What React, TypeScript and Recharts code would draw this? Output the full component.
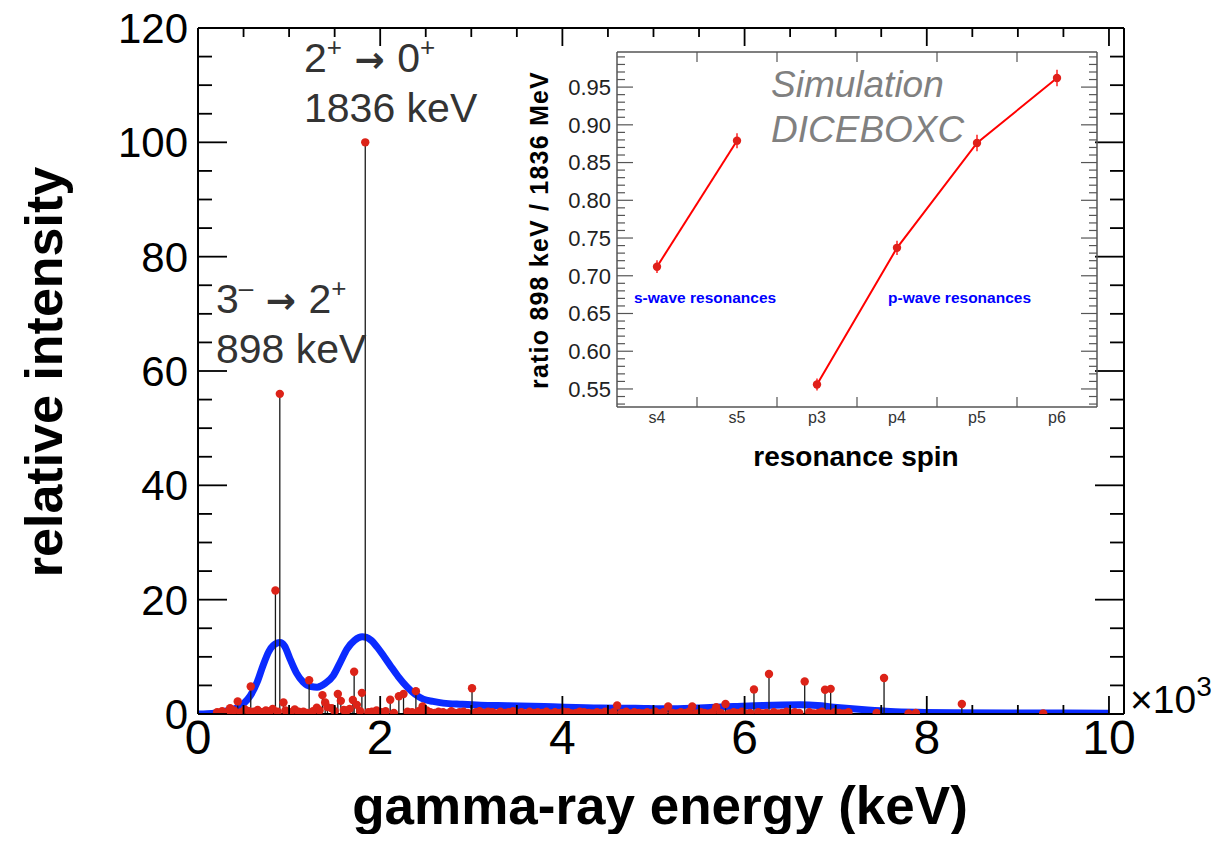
import React from "react";
import {
  ComposedChart,
  Line,
  Scatter,
  ErrorBar,
  XAxis,
  YAxis,
  ReferenceLine,
} from "recharts";

const FONT = '"Liberation Sans", Arial, Helvetica, sans-serif';

// gamma lines [energy keV, relative intensity]
const strongLines: number[][] = [
  [352, 1.0], [436, 2.2], [579, 4.8], [850, 21.6], [898, 56], [938, 2.0],
  [1220, 5.9], [1366, 3.3], [1535, 3.5], [1568, 2.3], [1700, 2.45], [1714, 7.4],
  [1744, 1.6], [1799, 3.7], [1836, 100], [2110, 2.5], [2205, 3.1], [2256, 3.5],
  [2392, 4.0], [2465, 1.3], [3008, 4.5], [4601, 1.5], [5161, 1.3], [5425, 1.3],
  [5689, 1.2], [5791, 1.75], [6103, 4.3], [6268, 7.0], [6660, 5.7], [6883, 4.25],
  [6945, 4.4], [7531, 6.3], [8385, 1.75], [9278, 0.1],
];

const weakLines: number[][] = [
  [210, 0.3], [265, 0.5], [330, 0.4], [395, 0.6], [470, 0.3], [515, 0.8], [560, 0.5],
  [610, 0.4], [655, 0.7], [700, 0.3], [745, 0.6], [790, 0.5], [820, 0.9], [875, 0.4],
  [960, 0.6], [1010, 0.3], [1062, 0.8], [1105, 0.4], [1157, 0.4], [1195, 0.2],
  [1262, 0.5], [1304, 1.1], [1335, 0.6], [1396, 2.0], [1421, 1.2], [1469, 1.0],
  [1500, 0.5], [1600, 0.7], [1634, 0.6], [1665, 0.9], [1780, 0.5], [1870, 0.3],
  [1909, 0.4], [1960, 0.6], [2010, 0.3], [2060, 0.5], [2150, 0.2], [2300, 0.4],
  [2350, 0.3], [2420, 0.5], [2470, 0.2], [2510, 0.6], [2550, 0.3], [2600, 0.2],
  [2640, 0.4], [2690, 0.3], [2735, 0.1], [2780, 0.5], [2820, 0.2], [2870, 0.3],
  [2915, 0.4], [2960, 0.2], [3050, 0.3], [3090, 0.5], [3140, 0.2], [3185, 0.4],
  [3230, 0.3], [3270, 0.1], [3320, 0.4], [3370, 0.2], [3410, 0.3], [3460, 0.5],
  [3500, 0.2], [3550, 0.3], [3590, 0.1], [3640, 0.4], [3690, 0.2], [3730, 0.3],
  [3780, 0.2], [3825, 0.4], [3870, 0.1], [3920, 0.3], [3960, 0.2], [4010, 0.4],
  [4060, 0.3], [4100, 0.1], [4150, 0.2], [4190, 0.4], [4240, 0.3], [4290, 0.2],
  [4330, 0.1], [4380, 0.3], [4420, 0.2], [4470, 0.4], [4520, 0.1], [4560, 0.3],
  [4650, 0.2], [4700, 0.4], [4740, 0.1], [4790, 0.3], [4840, 0.2], [4880, 0.1],
  [4930, 0.3], [4980, 0.2], [5020, 0.4], [5070, 0.1], [5110, 0.3], [5210, 0.2],
  [5260, 0.1], [5300, 0.3], [5350, 0.2], [5390, 0.4], [5470, 0.1], [5520, 0.3],
  [5560, 0.2], [5610, 0.1], [5650, 0.3], [5740, 0.2], [5830, 0.1], [5880, 0.3],
  [5920, 0.2], [5970, 0.4], [6010, 0.1], [6060, 0.2], [6150, 0.3], [6200, 0.1],
  [6240, 0.2], [6320, 0.3], [6370, 0.1], [6410, 0.2], [6460, 0.4], [6500, 0.1],
  [6550, 0.3], [6600, 0.2], [6710, 0.3], [6760, 0.1], [6810, 0.2], [6850, 0.4],
  [6920, 0.1], [6990, 0.3], [7040, 0.2], [7090, 0.1], [7140, 0.3], [7450, 0.2],
  [7800, 0.1], [7880, 0.2],
];

// detector-resolution folded spectrum [energy keV, intensity]
const foldedSpectrum: number[][] = [
  [0, 0], [100, 0.05], [200, 0.2], [300, 0.5], [400, 0.9], [500, 1.8], [575, 3.2],
  [650, 5.6], [714, 8.5], [780, 11], [868, 12.4], [900, 12.5], [950, 11.9],
  [1011, 9.6], [1080, 7.2], [1154, 5.6], [1240, 4.8], [1308, 4.7], [1400, 5.4],
  [1484, 6.7], [1560, 9.0], [1637, 11.4], [1720, 12.9], [1802, 13.5], [1850, 13.4],
  [1900, 12.9], [1967, 11.7], [2040, 10.1], [2110, 8.5], [2200, 6.5], [2297, 4.7],
  [2380, 3.5], [2473, 2.6], [2580, 2.2], [2692, 1.9], [2900, 1.7], [3100, 1.55],
  [3396, 1.45], [3800, 1.3], [4418, 1.05], [4800, 1.0], [5154, 0.9], [5500, 1.05],
  [5879, 1.3], [6200, 1.5], [6615, 1.6], [6800, 1.5], [6978, 1.2], [7150, 0.95],
  [7352, 0.7], [7600, 0.45], [7901, 0.3], [8300, 0.22], [9000, 0.18], [10000, 0.15],
];

const energyTicks = [0, 2000, 4000, 6000, 8000, 10000];
const intensityTicks = [0, 20, 40, 60, 80, 100, 120];

// inset: 898/1836 ratio per resonance spin
const spins = ["s4", "s5", "p3", "p4", "p5", "p6"];
const sWaveRatio = [0.712, 0.879, null, null, null, null];
const pWaveRatio = [null, null, 0.556, 0.737, 0.876, 0.962];
const ratioError = [0.0085, 0.01, 0.008, 0.0095, 0.011, 0.011];
const ratioTicks = [0.55, 0.6, 0.65, 0.7, 0.75, 0.8, 0.85, 0.9, 0.95];

const lines = [...strongLines, ...weakLines]
  .map(([e, v]) => ({ e, v, stem: [v, 0] }))
  .sort((a, b) => a.e - b.e);
const folded = foldedSpectrum.map(([e, v]) => ({ e, v }));
const ratioRows = spins.map((s, i) => ({
  i,
  spin: s,
  s: sWaveRatio[i],
  p: pWaveRatio[i],
  err: ratioError[i],
}));

const W = 1224;
const H = 842;

const MAIN = { left: 198, top: 28, right: 1124, bottom: 714 };
const E_MAX = 10165;
const I_MAX = 120;

// inset box on the page and its plot area inside that box
const INSET_BOX = { left: 520, top: 30, width: 600, height: 460 };
const INSET = { left: 97, top: 22, right: 577, bottom: 377 };
const R_MIN = 0.5261;
const R_MAX = 0.9965;

// inward tick marks: anchored on the frame through the axis scales,
// each carries its pixel length and direction
type Mark = { [k: string]: number };

const mainMarks: Mark[] = [];
for (let e = 0; e <= 10000; e += 500) {
  const len = e % 2000 === 0 ? 18 : 9;
  mainMarks.push({ e, v: 0, dx: 0, dy: -len });
  mainMarks.push({ e, v: I_MAX, dx: 0, dy: len });
}
for (let v = 0; v <= 120; v += 5) {
  const len = v % 20 === 0 ? 29 : 14;
  mainMarks.push({ e: 0, v, dx: len, dy: 0 });
  mainMarks.push({ e: E_MAX, v, dx: -len, dy: 0 });
}

const insetMarks: Mark[] = [];
for (let k = 0; k < 5; k++) {
  insetMarks.push({ i: k + 0.5, r: R_MIN, dx: 0, dy: -10 });
  insetMarks.push({ i: k + 0.5, r: R_MAX, dx: 0, dy: 10 });
}
for (let n = 53; n <= 99; n++) {
  const len = n % 5 === 0 ? 16 : 8;
  insetMarks.push({ i: -0.5, r: n / 100, dx: len, dy: 0 });
  insetMarks.push({ i: 5.5, r: n / 100, dx: -len, dy: 0 });
}

const markShape = (color: string, width: number) => (p: any) => {
  const m = p.payload ?? p;
  return (
    <line x1={p.cx} y1={p.cy} x2={p.cx + m.dx} y2={p.cy + m.dy} stroke={color} strokeWidth={width} />
  );
};

const hidden = () => <g />;

const Sup = ({ children, size }: { children: string; size: number }) => (
  <tspan fontSize={size} dy={-size * 0.6}>
    {children}
  </tspan>
);

const Arrow = ({ size, back }: { size: number; back: number }) => (
  <tspan dy={back} fontFamily='"DejaVu Sans", sans-serif' fontWeight="bold" fontSize={size}>
    {" → "}
  </tspan>
);

function MainTitles() {
  return (
    <svg
      width={W}
      height={H}
      style={{ position: "absolute", left: 0, top: 0, pointerEvents: "none" }}
      fontFamily={FONT}
    >
      <text x={62} y={372} fontSize={52} fontWeight="bold" textAnchor="middle" transform="rotate(-90 62 372)">
        relative intensity
      </text>
      <text x={660} y={824} fontSize={53} fontWeight="bold" textAnchor="middle">
        gamma-ray energy (keV)
      </text>
      <text x={1130} y={713} fontSize={39}>
        ×10
        <Sup size={28}>3</Sup>
      </text>
      <g fill="#333" fontSize={41}>
        <text x={304} y={72}>
          2<Sup size={26}>+</Sup>
          <Arrow size={36} back={15.6} />0<Sup size={26}>+</Sup>
        </text>
        <text x={304} y={122}>1836 keV</text>
        <text x={216} y={313}>
          3<Sup size={26}>–</Sup>
          <Arrow size={36} back={15.6} />2<Sup size={26}>+</Sup>
        </text>
        <text x={216} y={363}>898 keV</text>
      </g>
    </svg>
  );
}

// texts of the inset, in inset-box coordinates
function InsetTitles() {
  return (
    <svg
      width={INSET_BOX.width}
      height={INSET_BOX.height}
      style={{ position: "absolute", left: 0, top: 0, pointerEvents: "none" }}
      fontFamily={FONT}
    >
      <text
        x={28}
        y={200}
        fontSize={25}
        fontWeight="bold"
        letterSpacing={1.2}
        textAnchor="middle"
        transform="rotate(-90 28 200)"
      >
        ratio 898 keV / 1836 MeV
      </text>
      <text x={336} y={436} fontSize={28} fontWeight="bold" textAnchor="middle">
        resonance spin
      </text>
      <g fill="#0000ff" fontSize={15.5} fontWeight="bold">
        <text x={114} y={273}>s-wave resonances</text>
        <text x={368} y={273}>p-wave resonances</text>
      </g>
      <g fill="#808080" fontSize={37} fontStyle="italic">
        <text x={251} y={67}>Simulation</text>
        <text x={251} y={112}>DICEBOXC</text>
      </g>
    </svg>
  );
}

function SpectrumChart() {
  return (
    <ComposedChart
      width={W}
      height={H}
      margin={{ top: MAIN.top, left: MAIN.left - 100, right: W - MAIN.right, bottom: H - MAIN.bottom - 100 }}
    >
      <XAxis
        type="number"
        dataKey="e"
        domain={[0, E_MAX]}
        ticks={energyTicks}
        tickFormatter={(v) => String(v / 1000)}
        height={100}
        tickLine={false}
        tickSize={6}
        tickMargin={0}
        axisLine={{ stroke: "#000", strokeWidth: 2 }}
        tick={{ fill: "#000", fontSize: 48, fontFamily: FONT }}
        allowDataOverflow
      />
      <YAxis
        type="number"
        dataKey="v"
        domain={[0, I_MAX]}
        ticks={intensityTicks}
        width={100}
        tickLine={false}
        tickSize={6}
        tickMargin={4}
        axisLine={{ stroke: "#000", strokeWidth: 2 }}
        tick={{ fill: "#000", fontSize: 42, fontFamily: FONT }}
        allowDataOverflow
      />
      <ReferenceLine y={I_MAX} stroke="#000" strokeWidth={2} ifOverflow="visible" />
      <ReferenceLine x={E_MAX} stroke="#000" strokeWidth={2} ifOverflow="visible" />
      <Line
        data={folded}
        dataKey="v"
        type="monotone"
        stroke="#0b2bff"
        strokeWidth={7}
        strokeLinejoin="round"
        dot={false}
        isAnimationActive={false}
      />
      <Scatter data={lines} shape={hidden} isAnimationActive={false}>
        <ErrorBar dataKey="stem" direction="y" width={0} stroke="#1a1a1a" strokeWidth={1.3} isAnimationActive={false} />
      </Scatter>
      <Scatter
        data={lines}
        shape={(p: any) => <circle cx={p.cx} cy={p.cy} r={4.2} fill="#dc2318" />}
        isAnimationActive={false}
      />
      <Scatter data={mainMarks} shape={markShape("#000", 1.8)} isAnimationActive={false} />
    </ComposedChart>
  );
}

function RatioInset() {
  return (
    <ComposedChart
      width={INSET_BOX.width}
      height={INSET_BOX.height}
      data={ratioRows}
      margin={{
        top: INSET.top,
        left: INSET.left - 60,
        right: INSET_BOX.width - INSET.right,
        bottom: INSET_BOX.height - INSET.bottom - 30,
      }}
    >
      <XAxis
        type="number"
        dataKey="i"
        domain={[-0.5, 5.5]}
        ticks={[0, 1, 2, 3, 4, 5]}
        tickFormatter={(v) => spins[v] ?? ""}
        height={30}
        tickLine={false}
        tickSize={5}
        tickMargin={0}
        axisLine={{ stroke: "#555", strokeWidth: 1.5 }}
        tick={{ fill: "#333", fontSize: 16, fontFamily: FONT }}
        allowDataOverflow
      />
      <YAxis
        type="number"
        dataKey="r"
        domain={[R_MIN, R_MAX]}
        ticks={ratioTicks}
        tickFormatter={(v) => v.toFixed(2)}
        width={60}
        tickLine={false}
        tickSize={5}
        tickMargin={1}
        axisLine={{ stroke: "#555", strokeWidth: 1.5 }}
        tick={{ fill: "#222", fontSize: 22, fontFamily: FONT }}
        allowDataOverflow
      />
      <ReferenceLine y={R_MAX} stroke="#555" strokeWidth={1.5} ifOverflow="visible" />
      <ReferenceLine x={5.5} stroke="#555" strokeWidth={1.5} ifOverflow="visible" />
      {(["s", "p"] as const).map((k) => (
        <Line
          key={k}
          dataKey={k}
          stroke="#ff0000"
          strokeWidth={2}
          dot={{ r: 4.2, fill: "#e0201a", stroke: "none" }}
          isAnimationActive={false}
        >
          <ErrorBar dataKey="err" direction="y" width={0} stroke="#ff2020" strokeWidth={1.5} isAnimationActive={false} />
        </Line>
      ))}
      <Scatter data={insetMarks} shape={markShape("#555", 1.2)} isAnimationActive={false} />
    </ComposedChart>
  );
}

export default function App() {
  return (
    <div
      style={{
        position: "relative",
        width: W,
        height: H,
        margin: -8,
        background: "#fff",
        fontFamily: FONT,
        overflow: "hidden",
      }}
    >
      <div style={{ position: "absolute", left: 0, top: 0 }}>
        <SpectrumChart />
      </div>
      <MainTitles />
      <div
        style={{
          position: "absolute",
          left: INSET_BOX.left,
          top: INSET_BOX.top,
          width: INSET_BOX.width,
          height: INSET_BOX.height,
        }}
      >
        <RatioInset />
        <InsetTitles />
      </div>
    </div>
  );
}
